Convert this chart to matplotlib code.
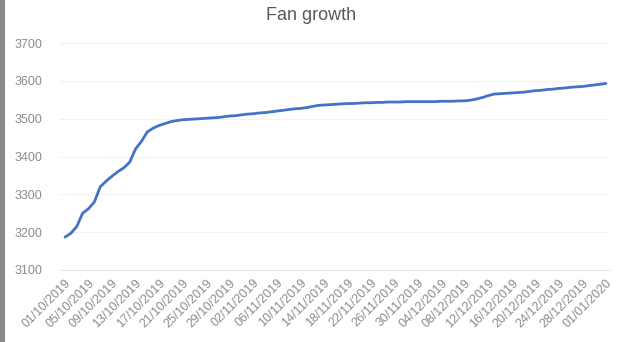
import matplotlib
matplotlib.use("Agg")
import matplotlib.pyplot as plt
import numpy as np
import pandas as pd
from matplotlib.patches import Rectangle

# Daily fan count, 01/10/2019 .. 01/01/2020
start_date = "2019-10-01"
fans = [
    3187, 3197, 3215, 3250, 3262, 3280, 3320, 3335, 3348, 3360,
    3370, 3385, 3420, 3440, 3465, 3475, 3482, 3487, 3492, 3495,
    3497, 3498, 3499, 3500, 3501, 3502, 3503, 3505, 3507, 3508,
    3510, 3512, 3513, 3515, 3516, 3518, 3520, 3522, 3524, 3526,
    3527, 3529, 3532, 3535, 3536, 3537, 3538, 3539, 3540, 3540,
    3541, 3542, 3542, 3543, 3543, 3544, 3544, 3544, 3545, 3545,
    3545, 3545, 3545, 3545, 3546, 3546, 3546, 3547, 3547, 3549,
    3552, 3556, 3561, 3565, 3566, 3567, 3568, 3569, 3570, 3572,
    3574, 3575, 3577, 3578, 3580, 3581, 3583, 3584, 3585, 3587,
    3589, 3591, 3593,
]
y_ticks = [3100, 3200, 3300, 3400, 3500, 3600, 3700]
label_step = 4

dates = pd.date_range(start=start_date, periods=len(fans), freq="D")
x = np.arange(len(fans))

plt.rcParams["font.family"] = ["Liberation Sans", "DejaVu Sans"]

fig = plt.figure(figsize=(6.23, 3.42), dpi=100)
ax = fig.add_axes([60 / 623, 1 - 270 / 342, 550 / 623, 227 / 342])

ax.plot(x, fans, color="#4472C4", linewidth=2.0, solid_capstyle="round")

ax.set_ylim(3100, 3700)
ax.set_yticks(y_ticks)
ax.set_xlim(-0.85, 92.7)
tick_pos = x[::label_step]
ax.set_xticks(tick_pos)
ax.set_xticklabels([d.strftime("%d/%m/%Y") for d in dates[::label_step]],
                   rotation=45, ha="right", va="top", rotation_mode="anchor")

ax.grid(axis="y", color="#f2f2f2", linewidth=0.8)
ax.set_axisbelow(True)
for side in ["top", "right", "left"]:
    ax.spines[side].set_visible(False)
ax.spines["bottom"].set_color("#e6e6e6")
ax.tick_params(axis="both", length=0, colors="#8c8c8c", labelsize=9)
ax.tick_params(axis="y", pad=13)
ax.tick_params(axis="x", pad=5)

fig.suptitle("Fan growth", x=311 / 623, y=1 - 15 / 342, va="center",
             fontsize=13, color="#595959")

# grey strip down the left edge of the screenshot
fig.patches.append(Rectangle((0, 0), 5 / 623, 1, transform=fig.transFigure,
                             facecolor="#8a8a8a", edgecolor="none"))

fig.savefig("out.png", dpi=100)
